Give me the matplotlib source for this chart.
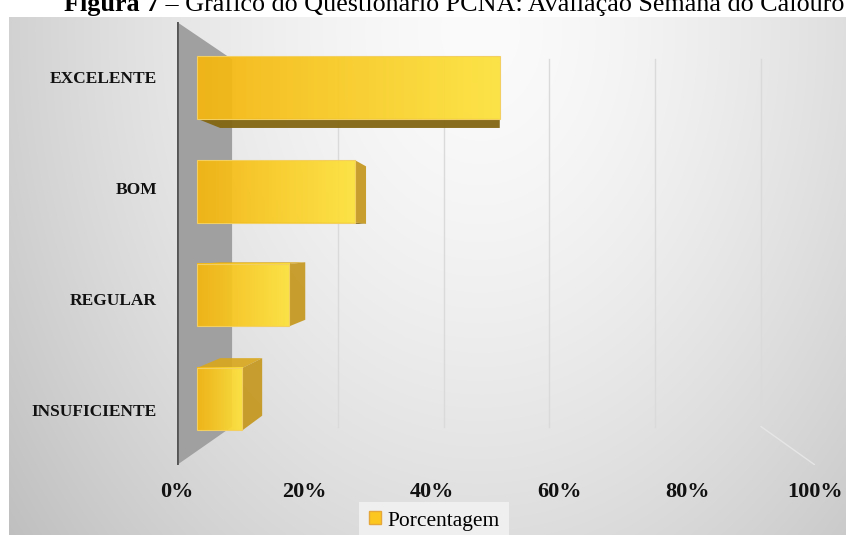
import numpy as np
import matplotlib.pyplot as plt
from matplotlib.colors import LinearSegmentedColormap
from matplotlib.patches import Patch, Polygon

# dados do questionario (de baixo para cima)
categorias = ['INSUFICIENTE', 'REGULAR', 'BOM', 'EXCELENTE']
porcentagem = [7.6, 15.4, 26.4, 50.6]
ticks_pct = [0, 20, 40, 60, 80, 100]
ticks_txt = ['0%', '20%', '40%', '60%', '80%', '100%']
titulo_negrito = 'Figura 7'
titulo_resto = ' \u2013 Gr\u00e1fico do Question\u00e1rio PCNA: Avalia\u00e7\u00e3o Semana do Calouro'

W, H = 851, 535
SERIF = 'Liberation Serif'

# perspectiva: ponto de fuga e profundidades (1 = plano da frente)
VPX, VPY = 50.5, 1.53
S_FRENTE, S_FUNDO, S_PAREDE = 0.938, 0.866, 0.829
MEIA = 0.3


def proj(v, c, s):
    return VPX + (v - VPX) * s, VPY + (c - VPY) * s


fig = plt.figure(figsize=(W / 100, H / 100), dpi=100, facecolor='white')

# fundo cinza com degrade radial
bg = fig.add_axes([9 / W, 0, 837 / W, 518 / H])
bg.axis('off')
yy, xx = np.mgrid[17:535, 9:846]
r = np.hypot((xx - 480) / 520.0, (yy - 30) / 700.0)
g = (251 - 48 * np.clip(r, 0, 1.5) ** 1.5) / 255.0
bg.imshow(np.dstack([g, g, g]), aspect='auto', interpolation='bilinear')

ax = fig.add_axes([177 / W, 1 - 465 / H, 638 / W, 443 / H])
ax.patch.set_visible(False)
for sp in ax.spines.values():
    sp.set_visible(False)

# parede lateral
parede = [proj(0, -0.5, 1), proj(0, 3.5, 1), proj(0, 3.5, S_PAREDE), proj(0, -0.5, S_PAREDE)]
ax.add_patch(Polygon(parede, closed=True, fc='#a0a0a0', ec='none', zorder=1))
ax.plot([0, 0], [-0.5, 3.5], color='#555555', lw=2, zorder=2)

# grade na parede do fundo
for t in ticks_pct[1:]:
    a = proj(t, -0.5, S_PAREDE)
    b = proj(t, 3.5, S_PAREDE)
    ax.plot([a[0], b[0]], [a[1], b[1]], color='#dadada', lw=1, zorder=1)
a = proj(100, -0.5, S_PAREDE)
b = proj(100, -0.5, 1)
ax.plot([a[0], b[0]], [a[1], b[1]], color='#e6e6e6', lw=1, zorder=1)

cmap_frente = LinearSegmentedColormap.from_list('frente', ['#f5b60f', '#fde23a'])
grad = np.linspace(0, 1, 200).reshape(1, -1)

for i, (cat, v) in enumerate(zip(categorias, porcentagem)):
    lo, hi = i - MEIA, i + MEIA
    if lo > VPY:
        pts = [proj(0, lo, S_FRENTE), proj(v, lo, S_FRENTE), proj(v, lo, S_FUNDO), proj(0, lo, S_FUNDO)]
        ax.add_patch(Polygon(pts, closed=True, fc='#836612', ec='none', alpha=0.95, zorder=3))
    if hi < VPY:
        pts = [proj(0, hi, S_FRENTE), proj(v, hi, S_FRENTE), proj(v, hi, S_FUNDO), proj(0, hi, S_FUNDO)]
        ax.add_patch(Polygon(pts, closed=True, fc='#d9a71d', ec='none', alpha=0.9, zorder=3))
    if v < VPX:
        pts = [proj(v, lo, S_FRENTE), proj(v, hi, S_FRENTE), proj(v, hi, S_FUNDO), proj(v, lo, S_FUNDO)]
        ax.add_patch(Polygon(pts, closed=True, fc='#c4961a', ec='none', alpha=0.9, zorder=3))
    x0, y0 = proj(0, lo, S_FRENTE)
    x1, y1 = proj(v, hi, S_FRENTE)
    ax.imshow(grad, cmap=cmap_frente, extent=(x0, x1, y0, y1), aspect='auto',
              alpha=0.93, zorder=4, interpolation='bilinear')
    ax.add_patch(Polygon([(x0, y0), (x1, y0), (x1, y1), (x0, y1)], closed=True,
                         fc='none', ec='#f3cf62', lw=0.8, zorder=5))

ax.set_xlim(0, 100)
ax.set_ylim(-0.5, 3.5)
ax.set_xticks(ticks_pct)
ax.set_xticklabels(ticks_txt, fontfamily=SERIF, fontweight='bold', fontsize=16)
ax.set_yticks(range(len(categorias)))
ax.set_yticklabels(categorias, fontfamily=SERIF, fontweight='bold', fontsize=12.5)
ax.tick_params(axis='x', length=0, pad=12, colors='#111111')
ax.tick_params(axis='y', length=0, pad=14.5, colors='#111111')

leg = ax.legend(handles=[Patch(facecolor='#fcc81f', edgecolor='#e6a73a', label='Porcentagem')],
                loc='center', bbox_to_anchor=(434 / W, 1 - 521 / H), bbox_transform=fig.transFigure,
                frameon=True, fancybox=False, facecolor='#efefef', edgecolor='none', framealpha=1,
                prop={'family': SERIF, 'size': 15.5}, handlelength=0.55, handleheight=0.55,
                handletextpad=0.3, borderpad=0.45, borderaxespad=0)

# titulo cortado no topo
t1 = fig.text(64 / W, 1 - 11 / H, titulo_negrito, fontfamily=SERIF, fontweight='bold',
              fontsize=18.8, ha='left', va='baseline')
fig.canvas.draw()
ext = t1.get_window_extent()
fig.text(ext.x1 / W, 1 - 11 / H, titulo_resto, fontfamily=SERIF, fontsize=18.8,
         ha='left', va='baseline')

fig.savefig('out.png', dpi=100)
